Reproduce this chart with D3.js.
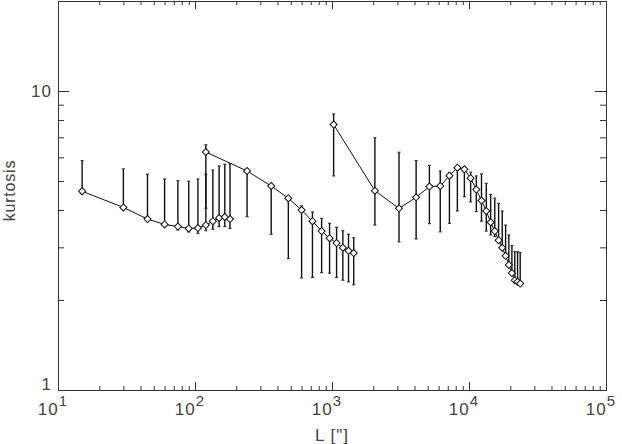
<!DOCTYPE html>
<html>
<head>
<meta charset="utf-8">
<script src="https://cdn.jsdelivr.net/npm/d3@7"></script>
<style>
  body { margin: 0; background: #fff; }
  svg { display: block; }
  text { font-family: "Liberation Sans", Arial, sans-serif; fill: #444; }
</style>
</head>
<body>
<script>
// series 1 : short scales
var s1x = [15, 30, 45, 60, 75, 90, 105, 120, 135, 150, 165, 180];
var s1y = [4.62, 4.08, 3.73, 3.58, 3.52, 3.47, 3.48, 3.56, 3.67, 3.76, 3.79, 3.73];
var s1lo = [4.53, 4.00, 3.66, 3.52, 3.43, 3.38, 3.34, 3.41, 3.45, 3.52, 3.52, 3.47];
var s1hi = [5.85, 5.49, 5.27, 5.08, 5.01, 4.99, 5.08, 5.27, 5.44, 5.61, 5.69, 5.71];

// series 2 : middle scales
var s2x = [120, 240, 360, 480, 600, 720, 840, 960, 1080, 1200, 1320, 1440];
var s2y = [6.25, 5.40, 4.81, 4.38, 4.00, 3.67, 3.40, 3.22, 3.10, 2.99, 2.92, 2.87];
var s2lo = [4.05, 3.80, 3.32, 2.75, 2.37, 2.38, 2.47, 2.46, 2.38, 2.33, 2.30, 2.25];
var s2hi = [6.61, 5.45, 4.85, 4.42, 4.13, 3.94, 3.75, 3.61, 3.50, 3.41, 3.32, 3.23];

// series 3 : large scales
var s3x = [1028, 2056, 3084, 4112, 5140, 6168, 7196, 8224, 9252, 10280, 11308, 12336,
           13364, 14392, 15420, 16448, 17476, 18504, 19532, 20560, 21588, 22616, 23644];
var s3y = [7.72, 4.64, 4.05, 4.41, 4.79, 4.81, 5.21, 5.54, 5.47, 5.11, 4.68, 4.30,
           3.97, 3.64, 3.40, 3.17, 2.99, 2.81, 2.62, 2.46, 2.33, 2.30, 2.27];
var s3lo = [5.20, 3.56, 3.13, 3.20, 3.60, 3.38, 3.61, 3.97, 4.43, 4.26, 3.95, 3.67,
            3.40, 3.30, 3.26, 3.12, 2.94, 2.79, 2.60, 2.44, 2.31, 2.28, 2.25];
var s3hi = [8.38, 6.98, 6.24, 5.85, 5.64, 5.40, 5.33, 5.60, 5.52, 5.35, 5.20, 5.28,
            4.91, 4.51, 4.38, 4.21, 3.97, 3.56, 3.30, 3.04, 2.90, 2.90, 2.88];

var xMajor = [10, 100, 1000, 10000, 100000];
var yMajor = [1, 10];

(function() {
  var width = 622, height = 444;
  var margin = {left: 58, top: 1, right: 16, bottom: 54};

  var svg = d3.select("body").append("svg")
    .attr("width", width)
    .attr("height", height);

  var x = d3.scaleLog().domain([10, 1e5]).range([margin.left, width - margin.right]);
  var y = d3.scaleLog().domain([1, 20]).range([height - margin.bottom, margin.top]);

  // minor ticks 2..9 in each decade
  var xMinor = [], yMinor = [];
  xMajor.slice(0, -1).forEach(function(d) {
    for (var k = 2; k <= 9; k++) xMinor.push(d * k);
  });
  [1, 10].forEach(function(d) {
    for (var k = 2; k <= 9; k++) if (d * k < 20) yMinor.push(d * k);
  });

  var axisColor = "#333";
  function styleAxis(g) {
    g.select(".domain").remove();
    g.selectAll("line").attr("stroke", axisColor).attr("stroke-width", 1);
    g.selectAll("text").remove();
  }

  var x0 = margin.left, x1 = width - margin.right;
  var y0 = height - margin.bottom, y1 = margin.top;

  // ticks (inward, mirrored)
  svg.append("g").attr("transform", "translate(0," + y0 + ")")
    .call(d3.axisBottom(x).tickValues(xMajor).tickSize(-8)).call(styleAxis);
  svg.append("g").attr("transform", "translate(0," + y0 + ")")
    .call(d3.axisBottom(x).tickValues(xMinor).tickSize(-4)).call(styleAxis);
  svg.append("g").attr("transform", "translate(0," + y1 + ")")
    .call(d3.axisTop(x).tickValues(xMajor).tickSize(-8)).call(styleAxis);
  svg.append("g").attr("transform", "translate(0," + y1 + ")")
    .call(d3.axisTop(x).tickValues(xMinor).tickSize(-4)).call(styleAxis);
  svg.append("g").attr("transform", "translate(" + x0 + ",0)")
    .call(d3.axisLeft(y).tickValues(yMajor).tickSize(-11)).call(styleAxis);
  svg.append("g").attr("transform", "translate(" + x0 + ",0)")
    .call(d3.axisLeft(y).tickValues(yMinor).tickSize(-6)).call(styleAxis);
  svg.append("g").attr("transform", "translate(" + x1 + ",0)")
    .call(d3.axisRight(y).tickValues(yMajor).tickSize(-11)).call(styleAxis);
  svg.append("g").attr("transform", "translate(" + x1 + ",0)")
    .call(d3.axisRight(y).tickValues(yMinor).tickSize(-6)).call(styleAxis);

  // frame
  svg.append("rect")
    .attr("x", x0 + 0.5).attr("y", y1 + 0.5)
    .attr("width", x1 - x0).attr("height", y0 - y1)
    .attr("fill", "none").attr("stroke", axisColor).attr("stroke-width", 1);

  // x tick labels 10^n
  var xl = svg.append("g").selectAll("text")
    .data(xMajor).enter().append("text")
    .attr("x", function(d) { return x(d) - 5; })
    .attr("y", y0 + 25)
    .attr("text-anchor", "middle")
    .style("font-size", "17px")
    .style("letter-spacing", "1px");
  xl.append("tspan").text("10");
  xl.append("tspan")
    .attr("dy", -9)
    .style("font-size", "15px")
    .text(function(d) { return Math.round(Math.log10(d)); });

  // y tick labels
  svg.append("g").selectAll("text")
    .data(yMajor).enter().append("text")
    .attr("x", x0 - 6)
    .attr("y", function(d) { return y(d); })
    .attr("dy", function(d) { return d === 1 ? "0em" : "0.36em"; })
    .attr("text-anchor", "end")
    .style("font-size", "17px")
    .style("letter-spacing", "1px")
    .text(function(d) { return d; });

  // axis titles
  svg.append("text")
    .attr("x", (x0 + x1) / 2)
    .attr("y", height - 3)
    .attr("text-anchor", "middle")
    .style("font-size", "17px")
    .style("letter-spacing", "1px")
    .text("L [\"]");

  svg.append("text")
    .attr("transform", "translate(15," + ((y0 + y1) / 2 - 5) + ") rotate(-90)")
    .attr("text-anchor", "middle")
    .style("font-size", "16px")
    .style("letter-spacing", "0.8px")
    .text("kurtosis");

  var series = [
    {x: s1x, y: s1y, lo: s1lo, hi: s1hi},
    {x: s2x, y: s2y, lo: s2lo, hi: s2hi},
    {x: s3x, y: s3y, lo: s3lo, hi: s3hi}
  ];

  var line = d3.line()
    .x(function(d) { return x(d.x); })
    .y(function(d) { return y(d.y); });

  var diamond = d3.symbol().type(d3.symbolSquare).size(25);

  series.forEach(function(s) {
    var pts = s.x.map(function(v, i) {
      return {x: v, y: s.y[i], lo: s.lo[i], hi: s.hi[i]};
    });
    var g = svg.append("g");

    // error bars
    var eb = g.selectAll(".err").data(pts).enter().append("g").attr("class", "err");
    eb.append("line")
      .attr("x1", function(d) { return x(d.x); })
      .attr("x2", function(d) { return x(d.x); })
      .attr("y1", function(d) { return y(d.lo); })
      .attr("y2", function(d) { return y(d.hi); })
      .attr("stroke", "#111").attr("stroke-width", 1.4);
    ["lo", "hi"].forEach(function(k) {
      eb.append("line")
        .attr("x1", function(d) { return x(d.x) - 1.5; })
        .attr("x2", function(d) { return x(d.x) + 1.5; })
        .attr("y1", function(d) { return y(d[k]); })
        .attr("y2", function(d) { return y(d[k]); })
        .attr("stroke", "#333").attr("stroke-width", 1.2);
    });

    g.append("path")
      .datum(pts)
      .attr("d", line)
      .attr("fill", "none")
      .attr("stroke", "#111")
      .attr("stroke-width", 1);

    g.selectAll(".pt").data(pts).enter().append("path")
      .attr("class", "pt")
      .attr("d", diamond)
      .attr("transform", function(d) {
        return "translate(" + x(d.x) + "," + y(d.y) + ") rotate(45)";
      })
      .attr("fill", "#fff")
      .attr("stroke", "#111")
      .attr("stroke-width", 1);
  });
})();
</script>
</body>
</html>
